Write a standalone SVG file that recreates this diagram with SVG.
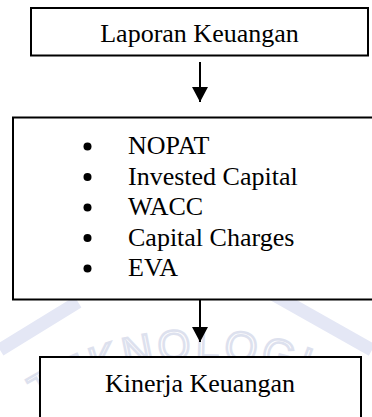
<svg xmlns="http://www.w3.org/2000/svg" width="372" height="417" viewBox="0 0 372 417">
<defs>
<style>
.box{fill:#fff;stroke:#000;stroke-width:2}
.t{font-family:"Liberation Serif","Times New Roman",serif;font-size:26px;fill:#000}
.c{text-anchor:middle}
.wm{fill:none;stroke:#e4e7f5;stroke-width:13}
.wmt{font-family:"Liberation Sans",Arial,sans-serif;font-size:42px;letter-spacing:4px;fill:none;stroke:#dde1ee;stroke-width:2.5}
.edge{stroke:#000;stroke-width:2;fill:none}
</style>
<marker id="ah" markerWidth="8" markerHeight="8" refX="7.5" refY="4" orient="auto" markerUnits="strokeWidth">
<path d="M0,0 L7.5,4 L0,8 Z" fill="#000"/>
</marker>
<path id="arc" d="M-56,506 A296,296 0 0 1 456,506"/>
</defs>
<rect width="372" height="417" fill="#fff"/>
<g id="watermark">
<path class="wm" d="M0,350 L78,302"/>
<path class="wm" d="M262,288 L372,350"/>
<text class="wmt"><textPath href="#arc" startOffset="140">TEKNOLOGI</textPath></text>
</g>
<g id="connectors">
<line class="edge" x1="200" y1="62" x2="200" y2="102" marker-end="url(#ah)"/>
<line class="edge" x1="200" y1="300" x2="200" y2="342" marker-end="url(#ah)"/>
</g>
<g id="laporan">
<rect class="box" x="31" y="8" width="337" height="47.5"/>
<text class="t c" x="199.5" y="42">Laporan Keuangan</text>
</g>
<g id="komponen">
<rect class="box" x="13" y="117.5" width="370" height="182"/>
<g fill="#000">
<circle cx="87.5" cy="146.5" r="4"/>
<circle cx="87.5" cy="177" r="4"/>
<circle cx="87.5" cy="207.5" r="4"/>
<circle cx="87.5" cy="238" r="4"/>
<circle cx="87.5" cy="268.5" r="4"/>
</g>
<text class="t" x="128" y="154">NOPAT</text>
<text class="t" x="128" y="184.5">Invested Capital</text>
<text class="t" x="128" y="215">WACC</text>
<text class="t" x="128" y="245.5">Capital Charges</text>
<text class="t" x="128" y="276">EVA</text>
</g>
<g id="kinerja">
<rect class="box" x="40" y="357" width="321" height="80"/>
<text class="t c" x="200" y="392">Kinerja Keuangan</text>
</g>
</svg>
